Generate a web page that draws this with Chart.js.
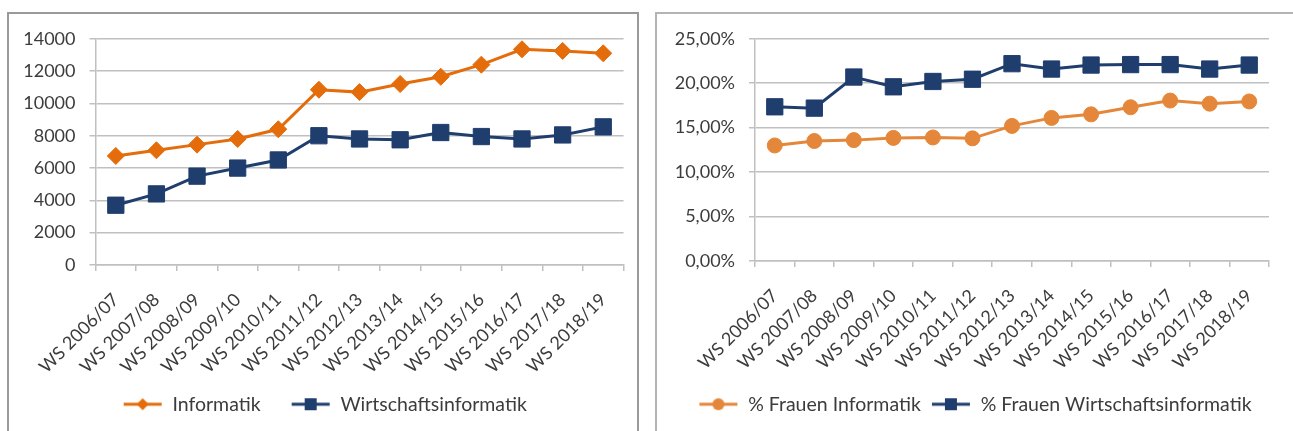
<!DOCTYPE html>
<html>
<head>
<meta charset="utf-8">
<script src="https://cdn.jsdelivr.net/npm/chart.js@4/dist/chart.umd.min.js"></script>
<style>
  html, body { margin: 0; padding: 0; background: #fff; }
  body { width: 1293px; height: 431px; position: relative; overflow: hidden; }
  .panel { position: absolute; box-sizing: border-box; border: 2px solid #a6a6a6; border-bottom: none; background: #fff; }
  .box { position: absolute; }
</style>
</head>
<body>
<div class="panel" style="left:7px; top:12px; width:632px; height:425px; border-color:#9a9a9a;"></div>
<div class="panel" style="left:655px; top:12px; width:638px; height:425px; border-color:#b4b4b4; border-right:none;"></div>
<div class="box" style="left:9px; top:14px; width:628px; height:430px;"><canvas id="c1"></canvas></div>
<div class="box" style="left:657px; top:14px; width:634px; height:417px;"><canvas id="c2"></canvas></div>
<script>
// ---- data ----
const semesters = ["WS 2006/07","WS 2007/08","WS 2008/09","WS 2009/10","WS 2010/11","WS 2011/12","WS 2012/13","WS 2013/14","WS 2014/15","WS 2015/16","WS 2016/17","WS 2017/18","WS 2018/19"];
const informatik = [6750, 7100, 7450, 7800, 8400, 10850, 10700, 11200, 11650, 12400, 13350, 13250, 13100];
const wirtschaftsinformatik = [3700, 4400, 5500, 6000, 6500, 8000, 7800, 7750, 8200, 7950, 7800, 8050, 8550];
const frauenInformatik = [13.0, 13.5, 13.6, 13.85, 13.9, 13.8, 15.2, 16.1, 16.5, 17.3, 18.05, 17.7, 17.95];
const frauenWirtschaftsinformatik = [17.35, 17.2, 20.7, 19.6, 20.2, 20.45, 22.2, 21.6, 22.05, 22.1, 22.1, 21.6, 22.05];
const leftTicks = { min: 0, max: 14000, step: 2000 };
const rightTicks = { min: 0, max: 25, step: 5 };

const ORANGE1 = '#e46c0a';
const ORANGE2 = '#e5873a';
const NAVY = '#1f3e6e';
const GRID = '#c0c0c0';
const TEXT = '#3c3c3c';
const FONT = 'Lato, "Noto Sans", sans-serif';

function legendIcon(color, style, r) {
  const c = document.createElement('canvas');
  c.width = 40; c.height = 20;
  const ctx = c.getContext('2d');
  ctx.strokeStyle = color; ctx.fillStyle = color; ctx.lineWidth = 3;
  ctx.beginPath(); ctx.moveTo(1, 10); ctx.lineTo(39, 10); ctx.stroke();
  ctx.beginPath();
  if (style === 'diamond') {
    ctx.moveTo(20, 10 - r); ctx.lineTo(20 + r, 10); ctx.lineTo(20, 10 + r); ctx.lineTo(20 - r, 10); ctx.closePath();
  } else if (style === 'rect') {
    ctx.rect(20 - r, 10 - r, 2 * r, 2 * r);
  } else {
    ctx.arc(20, 10, r, 0, Math.PI * 2);
  }
  ctx.fill();
  return c;
}

// moves the legend box after layout (legend centred on the panel, placed like the original)
const legendShift = {
  id: 'legendShift',
  afterLayout(chart, args, opts) {
    const lg = chart.legend;
    if (!lg) return;
    lg.left += opts.dx || 0; lg.right += opts.dx || 0;
    lg.top += opts.dy || 0; lg.bottom += opts.dy || 0;
  }
};

function makeChart(id, labels, datasets, ticksCfg, fmt, geom) {
  return new Chart(document.getElementById(id), {
    type: 'line',
    data: { labels, datasets },
    plugins: [legendShift],
    options: {
      responsive: true,
      maintainAspectRatio: false,
      animation: false,
      layout: { padding: { top: geom.top, right: geom.right, left: 0, bottom: 0 } },
      plugins: {
        tooltip: { enabled: false },
        legendShift: { dx: geom.legendDx, dy: geom.legendDy },
        legend: {
          position: 'bottom',
          labels: {
            usePointStyle: true,
            pointStyleWidth: 40,
            padding: geom.legendPad,
            color: TEXT,
            font: { family: FONT, size: 19.5 },
            generateLabels: (chart) => chart.data.datasets.map((ds, i) => ({
              text: ds.label,
              pointStyle: ds.legendIcon,
              fillStyle: ds.borderColor,
              strokeStyle: ds.borderColor,
              lineWidth: 0,
              fontColor: TEXT,
              datasetIndex: i,
              hidden: false
            }))
          }
        }
      },
      scales: {
        x: {
          offset: true,
          grid: { display: true, drawOnChartArea: false, drawTicks: true, offset: true, tickLength: 6, color: GRID, lineWidth: 1.5 },
          border: { display: true, color: GRID, width: 1.5 },
          ticks: { minRotation: 45, maxRotation: 45, autoSkip: false, padding: 18, color: TEXT, font: { family: FONT, size: 18 } },
          afterFit: (s) => { s.height = geom.xh; }
        },
        y: {
          min: ticksCfg.min, max: ticksCfg.max,
          grid: { color: GRID, lineWidth: 1.5, tickLength: 6 },
          border: { display: true, color: GRID, width: 1.5 },
          ticks: { stepSize: ticksCfg.step, padding: 14, color: TEXT, font: { family: FONT, size: 18 }, callback: fmt },
          afterFit: (s) => { s.width = geom.left; }
        }
      }
    }
  });
}

makeChart('c1', semesters, [
  { label: 'Informatik', data: informatik, borderColor: ORANGE1, backgroundColor: ORANGE1, borderWidth: 3,
    pointStyle: 'rectRot', pointRadius: 8.5, pointBorderWidth: 1, legendIcon: legendIcon(ORANGE1, 'diamond', 6) },
  { label: 'Wirtschaftsinformatik', data: wirtschaftsinformatik, borderColor: NAVY, backgroundColor: NAVY, borderWidth: 3,
    pointStyle: 'rect', pointRadius: 11.5, pointBorderWidth: 1, legendIcon: legendIcon(NAVY, 'rect', 6) }
], leftTicks, (v) => String(v), { top: 22.7, right: 12.5, left: 86.5, xh: 119.5, legendPad: 30, legendDx: 8, legendDy: -20 });

makeChart('c2', semesters, [
  { label: '% Frauen Informatik', data: frauenInformatik, borderColor: ORANGE2, backgroundColor: ORANGE2, borderWidth: 3,
    pointStyle: 'circle', pointRadius: 7.5, pointBorderWidth: 1, legendIcon: legendIcon(ORANGE2, 'circle', 6) },
  { label: '% Frauen Wirtschaftsinformatik', data: frauenWirtschaftsinformatik, borderColor: NAVY, backgroundColor: NAVY, borderWidth: 3,
    pointStyle: 'rect', pointRadius: 11.5, pointBorderWidth: 1, legendIcon: legendIcon(NAVY, 'rect', 6) }
], rightTicks, (v) => v.toFixed(2).replace('.', ',') + '%', { top: 22.7, right: 22, left: 98, xh: 130.5, legendPad: 10, legendDx: 12, legendDy: -7 });
</script>
</body>
</html>
